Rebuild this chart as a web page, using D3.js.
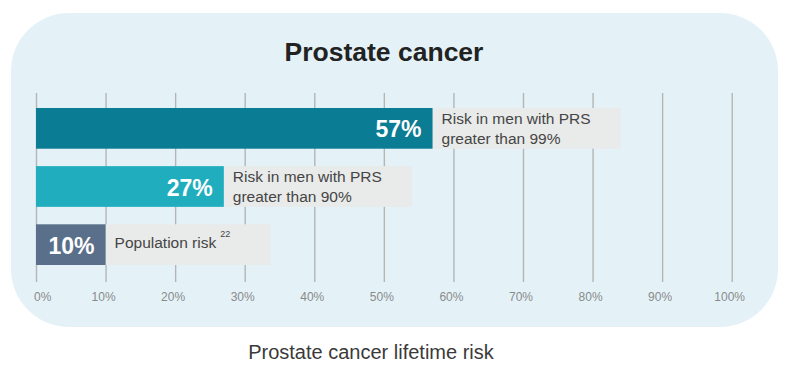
<!DOCTYPE html>
<html>
<head>
<meta charset="utf-8">
<script src="https://cdn.jsdelivr.net/npm/d3@7"></script>
<style>
  html, body { margin: 0; padding: 0; background: #ffffff; }
  svg { display: block; }
  text { font-family: "Liberation Sans", Arial, Helvetica, sans-serif; }
</style>
</head>
<body>
<svg id="chart" width="786" height="365"></svg>
<script>
// ---- data ----
const title = "Prostate cancer";
const axisTitle = "Prostate cancer lifetime risk";
const categories = ["prs99", "prs90", "population"];
const values = [57, 27, 10];
const valueLabels = ["57%", "27%", "10%"];
const descLines = [
  ["Risk in men with PRS", "greater than 99%"],
  ["Risk in men with PRS", "greater than 90%"],
  ["Population risk"]
];
const descSup = ["", "", "22"];
const tickValues = [0, 10, 20, 30, 40, 50, 60, 70, 80, 90, 100];
const tickLabels = ["0%", "10%", "20%", "30%", "40%", "50%", "60%", "70%", "80%", "90%", "100%"];
const barColors = ["#0a7c93", "#20adbe", "#5a6f89"];

// ---- layout ----
const svg = d3.select("#chart");

svg.append("rect")
  .attr("x", 11).attr("y", 13)
  .attr("width", 767).attr("height", 314)
  .attr("rx", 58).attr("ry", 58)
  .attr("fill", "#e4f2f8");

const x = d3.scaleLinear().domain([0, 100]).range([36, 731.7]);
const y = d3.scaleBand().domain(categories).range([108, 265]).paddingInner(0.3).paddingOuter(0);

// title
svg.append("text")
  .attr("x", 384).attr("y", 52)
  .attr("text-anchor", "middle").attr("dominant-baseline", "central")
  .attr("font-size", 26.5).attr("font-weight", "bold").attr("fill", "#222")
  .text(title);

// grid lines via axis
const axis = d3.axisBottom(x).tickValues(tickValues).tickSize(-(282 - 93)).tickFormat("");
const g = svg.append("g").attr("transform", "translate(0,282)").call(axis);
g.select(".domain").remove();
g.selectAll(".tick line").attr("stroke", "#b5b5b5").attr("stroke-width", 1.4);

// tick labels
svg.append("g").selectAll("text")
  .data(tickValues)
  .join("text")
  .attr("x", (d, i) => x(d) - 2)
  .attr("y", 297)
  .attr("text-anchor", (d, i) => i === 0 ? "start" : "middle")
  .attr("dominant-baseline", "central")
  .attr("font-size", 12).attr("fill", "#8a8a8a")
  .text((d, i) => tickLabels[i]);

// rows
const rows = svg.append("g").selectAll("g")
  .data(categories)
  .join("g");

rows.each(function(c, i) {
  const row = d3.select(this);
  const x0 = x(values[i]);
  const cy = y(c) + y.bandwidth() / 2;
  const box = row.append("rect")
    .attr("x", x0).attr("y", y(c))
    .attr("height", y.bandwidth())
    .attr("fill", "#e9eaea");
  const lines = descLines[i];
  const lh = 20;
  const t = row.append("text")
    .attr("font-size", 15.5).attr("fill", "#454545");
  lines.forEach((ln, j) => {
    const ty = cy + (j - (lines.length - 1) / 2) * lh - (lines.length === 1 ? 2 : 0);
    t.append("tspan")
      .attr("x", x0 + 9).attr("y", ty)
      .attr("dominant-baseline", "central")
      .text(ln);
    if (j === lines.length - 1 && descSup[i]) {
      t.append("tspan").attr("dx", 4).attr("dy", -6)
        .attr("font-size", 9).text(descSup[i]);
    }
  });
  const w = t.node().getBBox().width;
  box.attr("width", w + 9 + (lines.length === 1 ? 40 : 30));

  row.append("rect")
    .attr("x", x(0)).attr("y", y(c))
    .attr("width", x(values[i]) - x(0))
    .attr("height", y.bandwidth())
    .attr("fill", barColors[i]);

  row.append("text")
    .attr("x", x0 - 11).attr("y", cy + 1)
    .attr("text-anchor", "end").attr("dominant-baseline", "central")
    .attr("font-size", 23).attr("font-weight", "bold").attr("fill", "#ffffff")
    .text(valueLabels[i]);
});

// axis title
svg.append("text")
  .attr("x", 371).attr("y", 352)
  .attr("text-anchor", "middle").attr("dominant-baseline", "central")
  .attr("font-size", 20).attr("fill", "#3a3a3a")
  .text(axisTitle);
</script>
</body>
</html>
